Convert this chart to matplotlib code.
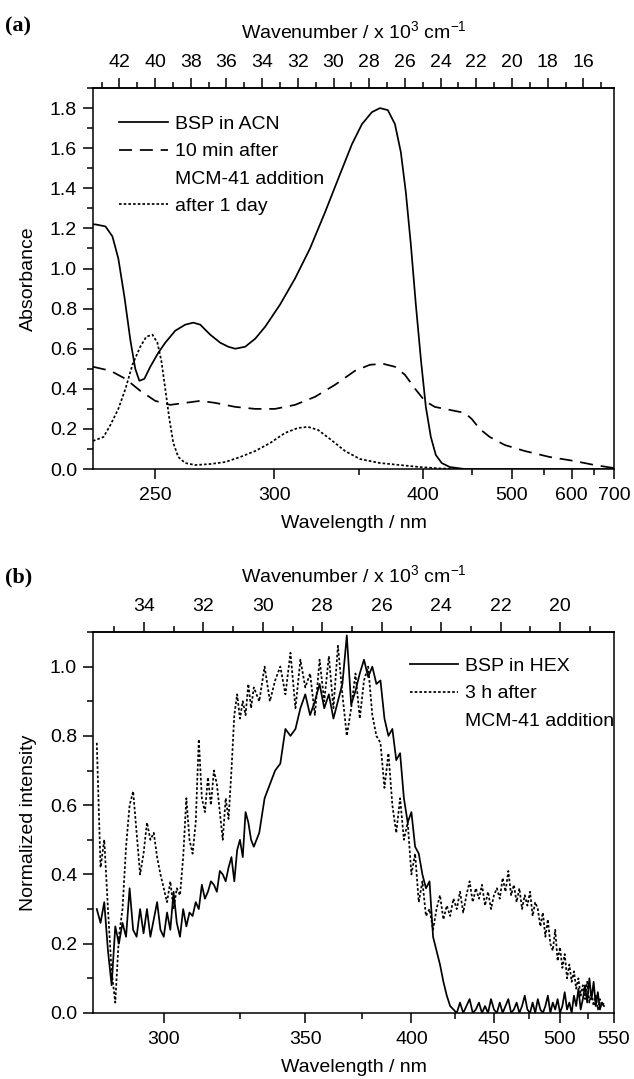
import numpy as np
import matplotlib
matplotlib.use("Agg")
from matplotlib import pyplot as plt
from matplotlib.lines import Line2D
from matplotlib.ticker import MultipleLocator, FormatStrFormatter

plt.rcParams['font.family'] = ['Liberation Sans', 'DejaVu Sans']
plt.rcParams['mathtext.fontset'] = 'custom'
plt.rcParams['mathtext.rm'] = 'Liberation Sans'
plt.rcParams['font.size'] = 14
plt.rcParams['axes.linewidth'] = 1.1

# ---- panel (a): absorbance, x in wavenumber / 10^3 cm^-1 ----
acn_wn = [43.48, 43.34, 42.78, 42.39, 42.06, 41.72, 41.38, 41.11, 40.88, 40.60,
          40.27, 39.82, 39.43, 38.87, 38.31, 37.86, 37.47, 36.91, 36.35, 35.90,
          35.51, 34.95, 34.39, 33.83, 33.00, 32.16, 31.32, 30.48, 29.64, 28.97,
          28.41, 27.85, 27.40, 26.96, 26.56, 26.23, 25.95, 25.67, 25.39, 25.10,
          24.83, 24.55, 24.27, 23.94, 23.49, 22.65, 20.69, 14.29]
acn_abs = [1.22, 1.22, 1.21, 1.16, 1.05, 0.86, 0.64, 0.50, 0.44, 0.45,
           0.51, 0.58, 0.63, 0.69, 0.72, 0.73, 0.72, 0.67, 0.63, 0.61,
           0.60, 0.61, 0.65, 0.71, 0.82, 0.95, 1.10, 1.28, 1.47, 1.62,
           1.72, 1.78, 1.80, 1.79, 1.72, 1.58, 1.38, 1.12, 0.82, 0.54,
           0.31, 0.16, 0.07, 0.03, 0.01, 0.0, 0.0, 0.0]

min10_wn = [43.48, 42.50, 41.66, 40.83, 39.99, 39.15, 38.31, 37.47, 36.63, 35.51,
            34.39, 33.28, 32.16, 31.04, 29.92, 28.80, 27.96, 27.23, 26.56, 26.00,
            25.43, 24.89, 24.33, 23.77, 23.21, 22.65, 22.26, 21.81, 21.25, 20.41,
            19.29, 17.89, 16.50, 15.38, 14.29]
min10_abs = [0.51, 0.49, 0.45, 0.39, 0.34, 0.32, 0.33, 0.34, 0.33, 0.31,
             0.30, 0.30, 0.32, 0.36, 0.42, 0.49, 0.52, 0.525, 0.51, 0.47,
             0.40, 0.34, 0.31, 0.30, 0.29, 0.28, 0.25, 0.20, 0.16, 0.12,
             0.09, 0.06, 0.04, 0.02, 0.005]

day1_wn = [43.48, 42.89, 42.50, 42.06, 41.66, 41.27, 40.83, 40.49, 40.15, 39.87,
           39.65, 39.43, 39.20, 38.98, 38.70, 38.31, 37.75, 36.91, 36.07, 35.23,
           34.39, 33.55, 32.72, 31.99, 31.43, 30.87, 30.20, 29.36, 28.52, 27.40,
           26.28, 25.17, 24.05, 22.93]
day1_abs = [0.14, 0.16, 0.22, 0.30, 0.40, 0.52, 0.61, 0.66, 0.67, 0.63,
            0.54, 0.40, 0.25, 0.13, 0.06, 0.03, 0.02, 0.025, 0.035, 0.06,
            0.09, 0.13, 0.18, 0.205, 0.21, 0.195, 0.15, 0.09, 0.05, 0.03,
            0.02, 0.01, 0.003, 0.0]

# ---- panel (b): normalized emission, x in wavelength / nm ----
wl_b = [281, 282, 283, 284, 285, 286, 287, 288, 289, 290,
        291, 292, 293, 294, 295, 296, 297, 298, 299, 300,
        301, 302, 303, 304, 305, 306, 307, 308, 309, 310,
        311, 312, 313, 314, 315, 316, 317, 318, 319, 320,
        321, 322, 323, 324, 325, 326, 327, 328, 329, 330,
        332, 334, 336, 338, 340, 342, 344, 346, 348, 350,
        352, 354, 356, 358, 360, 362, 364, 366, 368, 370,
        372, 374, 376, 378, 380, 382, 384, 386, 388, 390,
        392, 394, 396, 398, 400, 402, 404, 406, 408, 410,
        412, 414, 416, 418, 420, 422, 424, 426, 428, 430,
        432, 434, 436, 438, 440, 442, 444, 446, 448, 450,
        452, 454, 456, 458, 460, 462, 464, 466, 468, 470,
        472, 474, 476, 478, 480, 482, 484, 486, 488, 490,
        492, 494, 496, 498, 500, 502, 504, 506, 508, 510,
        512, 514, 516, 518, 520, 522, 524, 526, 528, 530,
        532, 534, 536, 538, 540]
hex_int = [0.30, 0.26, 0.32, 0.18, 0.08, 0.25, 0.20, 0.26, 0.22, 0.36,
           0.24, 0.22, 0.30, 0.23, 0.30, 0.22, 0.27, 0.32, 0.24, 0.22,
           0.29, 0.24, 0.35, 0.26, 0.22, 0.30, 0.25, 0.29, 0.28, 0.32,
           0.30, 0.37, 0.33, 0.35, 0.38, 0.37, 0.35, 0.41, 0.40, 0.38,
           0.42, 0.45, 0.38, 0.47, 0.50, 0.45, 0.58, 0.55, 0.50, 0.48,
           0.52, 0.62, 0.66, 0.70, 0.72, 0.82, 0.80, 0.82, 0.88, 0.92,
           0.86, 0.90, 0.95, 0.88, 0.92, 0.85, 0.90, 0.95, 1.09, 0.89,
           0.93, 0.98, 1.02, 0.97, 1.00, 0.95, 0.96, 0.85, 0.80, 0.82,
           0.73, 0.75, 0.62, 0.55, 0.58, 0.48, 0.46, 0.40, 0.36, 0.38,
           0.22, 0.18, 0.14, 0.09, 0.05, 0.02, 0.01, 0.00, 0.03, 0.00,
           0.02, 0.04, 0.00, 0.01, 0.03, 0.00, 0.02, 0.00, 0.04, 0.01,
           0.00, 0.03, 0.00, 0.02, 0.04, 0.00, 0.01, 0.03, 0.00, 0.02,
           0.05, 0.01, 0.00, 0.03, 0.00, 0.04, 0.01, 0.00, 0.02, 0.05,
           0.00, 0.03, 0.01, 0.04, 0.00, 0.02, 0.06, 0.01, 0.03, 0.00,
           0.05, 0.02, 0.07, 0.01, 0.04, 0.08, 0.03, 0.10, 0.04, 0.09,
           0.02, 0.06, 0.01, 0.03, 0.02]
mcm_int = [0.78, 0.42, 0.50, 0.30, 0.12, 0.03, 0.22, 0.30, 0.48, 0.60,
           0.64, 0.52, 0.40, 0.46, 0.55, 0.50, 0.52, 0.45, 0.40, 0.36,
           0.32, 0.38, 0.30, 0.36, 0.34, 0.45, 0.62, 0.50, 0.46, 0.55,
           0.79, 0.62, 0.58, 0.68, 0.60, 0.70, 0.66, 0.58, 0.50, 0.62,
           0.56, 0.70, 0.86, 0.92, 0.85, 0.90, 0.86, 0.95, 0.88, 0.94,
           0.90, 1.00, 0.90, 0.96, 1.00, 0.92, 1.04, 0.88, 1.02, 0.94,
           0.98, 0.86, 1.02, 0.90, 1.03, 0.88, 1.06, 0.92, 0.80, 0.88,
           0.98, 0.85, 0.96, 1.00, 0.86, 0.80, 0.78, 0.65, 0.75, 0.60,
           0.52, 0.62, 0.50, 0.55, 0.40, 0.46, 0.32, 0.38, 0.28, 0.30,
           0.24, 0.30, 0.34, 0.27, 0.31, 0.28, 0.33, 0.30, 0.35, 0.29,
           0.34, 0.38, 0.32, 0.36, 0.33, 0.37, 0.31, 0.35, 0.30, 0.34,
           0.36, 0.33, 0.39, 0.35, 0.41, 0.34, 0.37, 0.32, 0.36, 0.30,
           0.34, 0.31, 0.35, 0.28, 0.32, 0.30, 0.25, 0.29, 0.22, 0.27,
           0.20, 0.18, 0.24, 0.15, 0.19, 0.13, 0.17, 0.10, 0.14, 0.09,
           0.12, 0.07, 0.10, 0.05, 0.08, 0.04, 0.09, 0.03, 0.06, 0.02,
           0.05, 0.01, 0.04, 0.02, 0.03]

# axis ticks
a_nm_major = [250, 300, 400, 500, 600, 700]
a_nm_minor = [350, 450, 550, 650]
a_wn_major = [42, 40, 38, 36, 34, 32, 30, 28, 26, 24, 22, 20, 18, 16]
b_nm_major = [300, 350, 400, 450, 500, 550]
b_nm_minor = [325, 375, 425, 475, 525]
b_wn_major = [34, 32, 30, 28, 26, 24, 22, 20]

TOP_LABEL = r'Wavenumber / x 10$^\mathregular{3}$ cm$^\mathregular{-1}$'
LW = 1.25


def to_wn(nm):
    return 1e4 / np.asarray(nm, dtype=float)


def style_axes(ax, nm_range, ymax, nm_major, nm_minor, wn_major, ylabel):
    ax.set_xlim(to_wn(nm_range[0]), to_wn(nm_range[1]))
    ax.set_ylim(0, ymax)
    ax.set_xticks(to_wn(nm_major))
    ax.set_xticklabels([str(v) for v in nm_major])
    ax.set_xticks(to_wn(nm_minor), minor=True)
    ax.yaxis.set_major_locator(MultipleLocator(0.2))
    ax.yaxis.set_minor_locator(MultipleLocator(0.1))
    ax.yaxis.set_major_formatter(FormatStrFormatter('%.1f'))
    ax.tick_params(which='both', direction='out', width=1.1, right=False, top=False)
    ax.tick_params(which='major', length=7.5, pad=5.5)
    ax.tick_params(which='minor', length=4)
    ax.tick_params(axis='y', which='major', pad=4)
    ax.set_xlabel('Wavelength / nm', labelpad=8)
    ax.set_ylabel(ylabel, labelpad=9)

    top = ax.secondary_xaxis('top')
    top.set_xticks(wn_major)
    top.xaxis.set_minor_locator(MultipleLocator(1))
    top.tick_params(which='both', direction='out', width=1.1)
    top.tick_params(which='major', length=7.5, pad=5)
    top.tick_params(which='minor', length=4)
    top.set_xlabel(TOP_LABEL, labelpad=10.5)


fig = plt.figure(figsize=(6.34, 10.79), dpi=100)

# panel (a)
ax_a = fig.add_axes([0.1467, 0.5653, 0.8218, 0.3531])
l1, = ax_a.plot(acn_wn, acn_abs, color='black', lw=LW, ls='-')
l2, = ax_a.plot(min10_wn, min10_abs, color='black', lw=LW, ls='--', dashes=(7.5, 4.5))
l3, = ax_a.plot(day1_wn, day1_abs, color='black', lw=LW, ls=':', dashes=(1.5, 1.2))
blank = Line2D([], [], linestyle='none')
style_axes(ax_a, (230, 700), 1.9, a_nm_major, a_nm_minor, a_wn_major, 'Absorbance')
ax_a.legend([l1, l2, blank, l3],
            ['BSP in ACN', '10 min after', 'MCM-41 addition', 'after 1 day'],
            loc='upper left', bbox_to_anchor=(0.05, 0.928), frameon=False,
            borderpad=0, borderaxespad=0, handlelength=2.5, handletextpad=0.36,
            labelspacing=0.5)

# panel (b)
ax_b = fig.add_axes([0.1467, 0.0612, 0.8218, 0.3531])
m1, = ax_b.plot(to_wn(wl_b), hex_int, color='black', lw=LW, ls='-')
m2, = ax_b.plot(to_wn(wl_b), mcm_int, color='black', lw=LW, ls=':', dashes=(1.5, 1.2))
style_axes(ax_b, (280, 550), 1.1, b_nm_major, b_nm_minor, b_wn_major, 'Normalized intensity')
ax_b.legend([m1, m2, blank],
            ['BSP in HEX', '3 h after', 'MCM-41 addition'],
            loc='upper left', bbox_to_anchor=(0.608, 0.933), frameon=False,
            borderpad=0, borderaxespad=0, handlelength=2.5, handletextpad=0.36,
            labelspacing=0.5)

fig.text(5 / 634, 1 - 26 / 1079, '(a)', family=['Liberation Serif'], weight='bold',
         fontsize=16, ha='left', va='center')
fig.text(5 / 634, 1 - 577 / 1079, '(b)', family=['Liberation Serif'], weight='bold',
         fontsize=16, ha='left', va='center')

fig.savefig('out.png', dpi=100)
